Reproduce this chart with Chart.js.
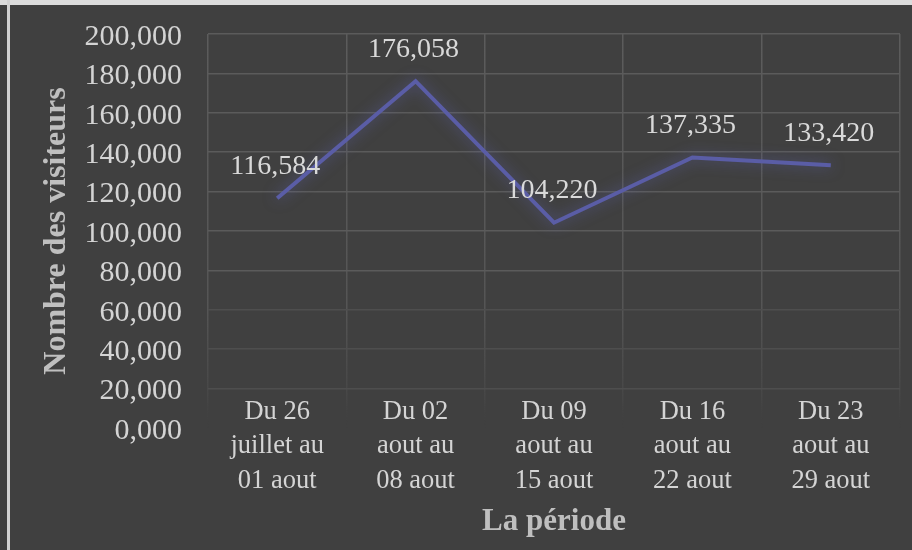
<!DOCTYPE html>
<html>
<head>
<meta charset="utf-8">
<script src="https://cdn.jsdelivr.net/npm/chart.js@4/dist/chart.umd.min.js"></script>
<style>
  html, body { margin: 0; padding: 0; background: #404040; }
  #frame { position: relative; width: 912px; height: 550px; overflow: hidden; background: #404040; }
  #frame .edgeTop { position: absolute; left: 0; top: 0; width: 912px; height: 5px; background: #dcdcdc; }
  #frame .edgeLeft { position: absolute; left: 7px; top: 0; width: 3px; height: 550px; background: #d2d2d2; }
  #chart { position: absolute; left: 0; top: 0; }
</style>
</head>
<body>
<div id="frame">
  <canvas id="chart" width="912" height="550"></canvas>
  <div class="edgeTop"></div>
  <div class="edgeLeft"></div>
</div>
<script>
const periods = [
  ["Du 26", "juillet au", "01 aout"],
  ["Du 02", "aout au", "08 aout"],
  ["Du 09", "aout au", "15 aout"],
  ["Du 16", "aout au", "22 aout"],
  ["Du 23", "aout au", "29 aout"],
];
const visitors = [116584, 176058, 104220, 137335, 133420];
const yMin = 0;
const yMax = 200000;
const yStep = 20000;

// 116584 -> "116,584", 0 -> "0,000"
function fmt(v) {
  v = Math.round(v);
  return Math.floor(v / 1000) + "," + String(v % 1000).padStart(3, "0");
}

const serif = "'Liberation Serif', 'Times New Roman', serif";

// soft halo under the line
const glow = {
  id: "glow",
  beforeDatasetsDraw(chart) {
    const ctx = chart.ctx;
    ctx.save();
    ctx.shadowColor = "rgba(100, 105, 200, 0.55)";
    ctx.shadowBlur = 14;
  },
  afterDatasetsDraw(chart) {
    chart.ctx.restore();
  },
};

// value written above each point
const valueLabels = {
  id: "valueLabels",
  afterDatasetsDraw(chart) {
    const ctx = chart.ctx;
    const meta = chart.getDatasetMeta(0);
    ctx.save();
    ctx.font = "28px " + serif;
    ctx.fillStyle = "#d9d9d9";
    ctx.textAlign = "center";
    ctx.textBaseline = "middle";
    meta.data.forEach((pt, i) => {
      ctx.fillText(fmt(visitors[i]), pt.x - 2, pt.y - 32);
    });
    ctx.restore();
  },
};

// category labels sit a little up into the plot's bottom band,
// which the scale's own label box would clip
const periodLabels = {
  id: "periodLabels",
  afterDraw(chart) {
    const ctx = chart.ctx;
    const xs = chart.scales.x;
    const top = chart.chartArea.bottom - 16;
    ctx.save();
    ctx.font = "26.5px " + serif;
    ctx.fillStyle = "#d4d4d4";
    ctx.textAlign = "center";
    ctx.textBaseline = "middle";
    periods.forEach((lines, i) => {
      const x = xs.getPixelForTick(i);
      lines.forEach((t, k) => ctx.fillText(t, x, top + k * 34.5));
    });
    ctx.restore();
  },
};

function xGridColor(c) {
  const area = c.chart.chartArea;
  if (!area) return "#575757";
  const g = c.chart.ctx.createLinearGradient(0, area.top, 0, area.bottom);
  g.addColorStop(0, "#5c5c5c");
  g.addColorStop(0.7, "#555555");
  g.addColorStop(0.92, "rgba(84,84,84,0.35)");
  g.addColorStop(1, "rgba(64,64,64,0)");
  return g;
}

function yGridColor(c) {
  const v = c.tick.value;
  if (v === 0) return "rgba(0,0,0,0)";
  if (v <= 60000) return "#4e4e4e";
  return "#5b5b5b";
}

new Chart(document.getElementById("chart"), {
  type: "line",
  data: {
    labels: periods,
    datasets: [{
      data: visitors,
      borderColor: "#5a5da6",
      borderWidth: 4,
      pointRadius: 0,
      tension: 0,
      fill: false,
    }],
  },
  options: {
    responsive: false,
    animation: false,
    layout: { padding: { top: 34, right: 12, bottom: 0, left: 0 } },
    plugins: {
      legend: { display: false },
      tooltip: { enabled: false },
    },
    scales: {
      x: {
        offset: true,
        grid: { offset: true, color: xGridColor, lineWidth: 1.5, drawTicks: false },
        border: { display: false },
        ticks: { display: false, autoSkip: false },
        title: {
          display: true,
          text: "La période",
          color: "#bfbfbf",
          font: { family: serif, size: 31, weight: "bold" },
          padding: { top: 0, bottom: 9 },
        },
        afterFit(s) { s.height = 122; },
      },
      y: {
        min: yMin,
        max: yMax,
        grid: { color: yGridColor, lineWidth: 1.5, drawTicks: false },
        border: { display: false },
        ticks: {
          stepSize: yStep,
          autoSkip: false,
          color: "#d4d4d4",
          font: { family: serif, size: 30 },
          padding: 26,
          labelOffset: 3,
          callback: (v) => fmt(v),
        },
        title: {
          display: true,
          text: "Nombre des visiteurs",
          color: "#bfbfbf",
          font: { family: serif, size: 32, weight: "bold" },
          padding: { top: 38, bottom: 0 },
        },
        afterFit(s) {
          s.width = 208;
          // the label gap shouldn't push the plot top down
          s.paddingTop = 16;
          s.paddingBottom = 16;
        },
      },
    },
  },
  plugins: [glow, valueLabels, periodLabels],
});
</script>
</body>
</html>
